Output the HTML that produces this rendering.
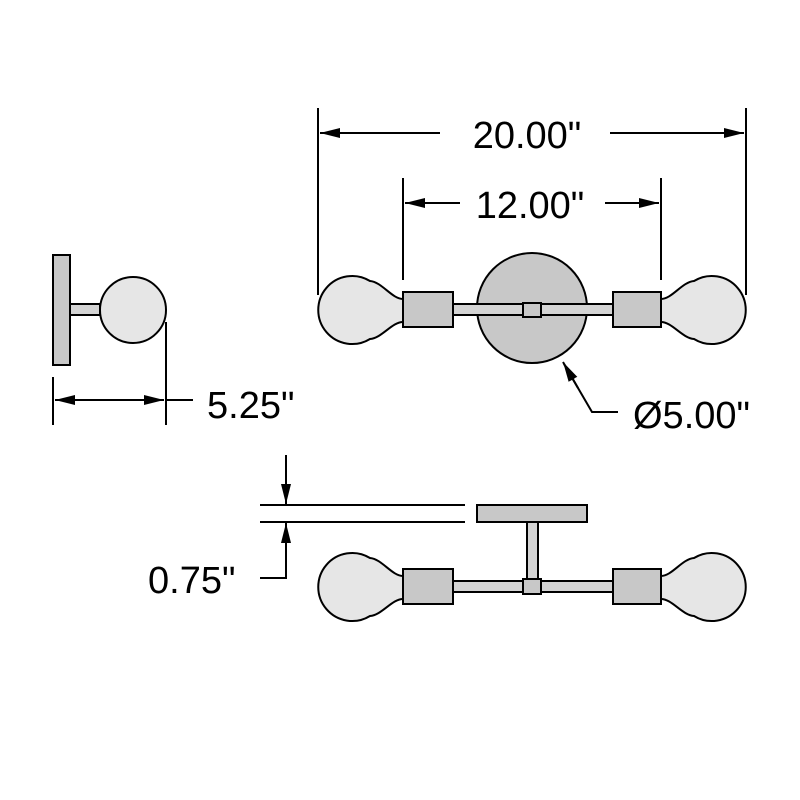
<!DOCTYPE html>
<html><head><style>html,body{margin:0;padding:0;background:#fff}svg{display:block}</style></head><body>
<svg width="800" height="800" viewBox="0 0 800 800" xmlns="http://www.w3.org/2000/svg">
<defs>
<marker id="a" viewBox="0 0 20 10" refX="20" refY="5" markerWidth="20" markerHeight="10" markerUnits="userSpaceOnUse" orient="auto"><path d="M0,0 L20,5 L0,10 Z" fill="#000"/></marker>
<g id="bulbL"><path d="M403,299 C392,299 382,282 370,281 A34,34 0 1 0 370,339 C382,338 392,322 403,322" fill="#e6e6e6" stroke="#000" stroke-width="2"/></g>
</defs>
<g font-family="Liberation Sans, sans-serif" font-size="38" fill="#000">
<text x="527" y="148" text-anchor="middle">20.00"</text>
<text x="530" y="218" text-anchor="middle">12.00"</text>
<text x="207" y="418">5.25"</text>
<text x="633" y="428">Ø5.00"</text>
<text x="148" y="593">0.75"</text>
</g>
<g stroke="#000" stroke-width="2" fill="none">
<line x1="318" y1="108" x2="318" y2="295"/><line x1="746" y1="108" x2="746" y2="295"/>
<line x1="440" y1="133" x2="320" y2="133" marker-end="url(#a)"/><line x1="610" y1="133" x2="744" y2="133" marker-end="url(#a)"/>
<line x1="403" y1="178" x2="403" y2="280"/><line x1="661" y1="178" x2="661" y2="280"/>
<line x1="460" y1="203" x2="405" y2="203" marker-end="url(#a)"/><line x1="605" y1="203" x2="659" y2="203" marker-end="url(#a)"/>
<polyline points="618,412 592,412 564,364"/>
<line x1="578" y1="388" x2="563" y2="362" marker-end="url(#a)"/>
<line x1="53" y1="377" x2="53" y2="425"/><line x1="166" y1="322" x2="166" y2="425"/>
<line x1="110" y1="400" x2="55" y2="400" marker-end="url(#a)"/><line x1="110" y1="400" x2="164" y2="400" marker-end="url(#a)"/>
<line x1="166" y1="400" x2="193" y2="400"/>
<line x1="260" y1="505" x2="465" y2="505"/><line x1="260" y1="522" x2="465" y2="522"/>
<line x1="286" y1="455" x2="286" y2="504" marker-end="url(#a)"/>
<polyline points="260,578 286,578 286,540"/>
<line x1="286" y1="545" x2="286" y2="523" marker-end="url(#a)"/>
</g>
<g stroke="#000" stroke-width="2">
<circle cx="532" cy="308" r="55" fill="#c8c8c8"/>
<use href="#bulbL"/>
<use href="#bulbL" transform="translate(1064,0) scale(-1,1)"/>
<rect x="403" y="292" width="50" height="35" fill="#c8c8c8"/>
<rect x="613" y="292" width="48" height="35" fill="#c8c8c8"/>
<rect x="453" y="304" width="160" height="11" fill="#d4d4d4"/>
<rect x="523" y="303" width="18" height="14" fill="#c8c8c8"/>
</g>
<g stroke="#000" stroke-width="2">
<rect x="53" y="255" width="17" height="110" fill="#c8c8c8"/>
<rect x="70" y="304" width="30" height="11" fill="#d4d4d4"/>
<circle cx="133" cy="310" r="33" fill="#e6e6e6"/>
</g>
<g stroke="#000" stroke-width="2" transform="translate(0,277)">
<use href="#bulbL"/>
<use href="#bulbL" transform="translate(1064,0) scale(-1,1)"/>
<rect x="403" y="292" width="50" height="35" fill="#c8c8c8"/>
<rect x="613" y="292" width="48" height="35" fill="#c8c8c8"/>
<rect x="453" y="304" width="160" height="11" fill="#d4d4d4"/>
<rect x="527" y="245" width="11" height="58" fill="#d4d4d4"/>
<rect x="523" y="302" width="18" height="15" fill="#c8c8c8"/>
</g>
<rect x="477" y="505" width="110" height="17" fill="#c8c8c8" stroke="#000" stroke-width="2"/>
</svg>
</body></html>
